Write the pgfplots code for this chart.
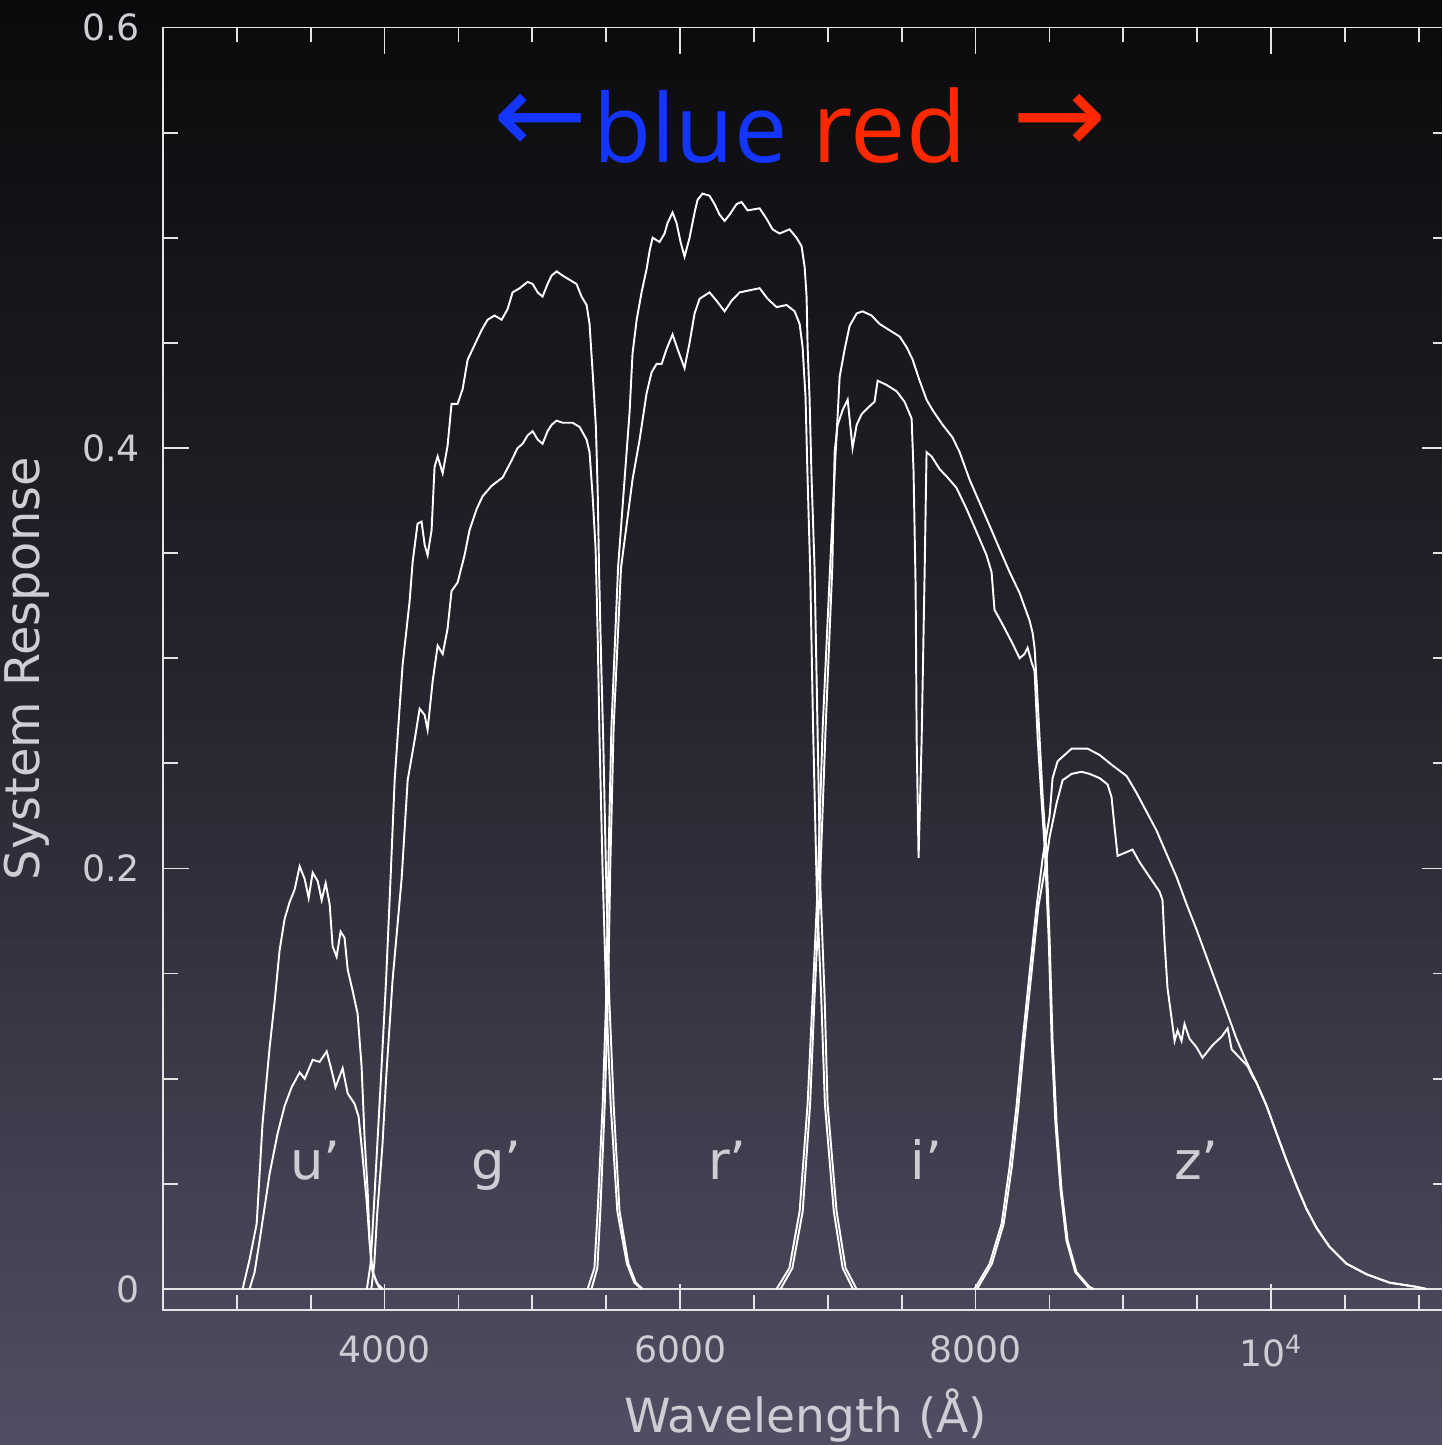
\documentclass[border=0pt]{standalone}
\usepackage{pgfplots}
\pgfplotsset{compat=1.18}
\usepackage{fontspec}
\setmainfont{DejaVu Sans}
\newfontfamily\titlefont{Open Sans}
\definecolor{bgtop}{RGB}{10,10,12}
\definecolor{bgmid}{RGB}{38,38,48}
\definecolor{bgbot}{RGB}{80,78,98}
\definecolor{axcol}{RGB}{228,228,228}
\definecolor{txtcol}{RGB}{205,205,212}
\definecolor{bluet}{RGB}{20,52,255}
\definecolor{redt}{RGB}{255,40,0}
\pgfplotsset{curve/.style={white, solid, line width=0.55pt, mark=none}}
\begin{document}
\begin{tikzpicture}[x=1cm,y=1cm]
\path[use as bounding box] (0,0) rectangle (14.42,14.45);
\foreach \i in {0,...,49}{
  \pgfmathtruncatemacro{\p}{2*\i}
  \fill[bgmid!\p!bgbot] (0,{\i*0.1445}) rectangle (14.42,{(\i+1)*0.1445+0.02});
}
\foreach \i in {50,...,99}{
  \pgfmathtruncatemacro{\p}{2*(\i-50)}
  \fill[bgtop!\p!bgmid] (0,{\i*0.1445}) rectangle (14.42,{min((\i+1)*0.1445+0.02,14.45)});
}
\begin{axis}[
  at={(1.63cm,1.35cm)}, anchor=south west,
  scale only axis, width=12.854cm, height=12.825cm,
  xmin=2500, xmax=11200, ymin=-0.01, ymax=0.6,
  scaled x ticks=false, scaled y ticks=false,
  axis line style={axcol, line width=0.5pt},
  every tick/.style={axcol, line width=0.5pt},
  major tick length=0.26cm, minor tick length=0.15cm,
  xtick pos=both, ytick pos=both, xticklabel pos=lower, yticklabel pos=left,
  xtick={4000,6000,8000,10000},
  xticklabels={4000,6000,8000,10\textsuperscript{4}},
  minor xtick={3000,3500,4500,5000,5500,6500,7000,7500,8500,9000,9500,10500,11000},
  ytick={0,0.2,0.4,0.6},
  yticklabels={0,0.2,0.4,0.6},
  minor ytick={0.05,0.1,0.15,0.25,0.3,0.35,0.45,0.5,0.55},
  extra y ticks={0},
  extra y tick labels={},
  extra y tick style={grid=major, major grid style={axcol, line width=0.5pt}},
  xticklabel style={font=\fontsize{10.3}{12}\selectfont, text=txtcol, yshift=-1.3mm},
  yticklabel style={font=\fontsize{10.3}{12}\selectfont, text=txtcol, xshift=-1.1mm},
  xlabel={Wavelength (Å)},
  ylabel={System Response},
  xlabel style={at={(axis description cs:0.5,-0.082)}, anchor=center, font=\fontsize{13.4}{15}\selectfont, text=txtcol},
  ylabel style={at={(axis description cs:-0.106,0.5)}, anchor=center, font=\fontsize{13.6}{15}\selectfont, text=txtcol},
]
% u' upper
\addplot[curve] coordinates {(3039,0) (3086,0.014) (3134,0.031) (3174,0.079) (3222,0.115) (3256,0.137) (3289,0.161) (3323,0.176) (3357,0.184) (3391,0.190) (3425,0.201) (3459,0.195) (3486,0.186) (3513,0.198) (3547,0.194) (3574,0.185) (3601,0.193) (3628,0.183) (3648,0.163) (3675,0.158) (3702,0.170) (3729,0.167) (3750,0.152) (3783,0.142) (3817,0.131) (3844,0.106) (3865,0.071) (3885,0.047) (3898,0.023) (3912,0.010) (3946,0.003) (3986,0)};
% u' lower
\addplot[curve] coordinates {(3086,0) (3120,0.008) (3154,0.023) (3222,0.055) (3276,0.074) (3323,0.087) (3371,0.096) (3425,0.103) (3459,0.100) (3513,0.109) (3560,0.108) (3608,0.113) (3641,0.104) (3668,0.096) (3716,0.105) (3750,0.093) (3797,0.088) (3824,0.082) (3851,0.063) (3878,0.042) (3898,0.023) (3919,0.008) (3960,0.001) (3986,0)};
% g' upper
\addplot[curve] coordinates {(3880,0) (3905,0.012) (3925,0.036) (3950,0.068) (3975,0.100) (4010,0.147) (4040,0.195) (4068,0.242) (4102,0.277) (4122,0.297) (4169,0.327) (4190,0.346) (4223,0.364) (4250,0.365) (4271,0.354) (4291,0.349) (4318,0.361) (4338,0.391) (4359,0.396) (4393,0.388) (4426,0.401) (4453,0.421) (4494,0.421) (4528,0.428) (4562,0.442) (4609,0.449) (4656,0.456) (4697,0.461) (4744,0.463) (4792,0.461) (4832,0.466) (4866,0.474) (4914,0.476) (4968,0.479) (5002,0.478) (5036,0.474) (5069,0.472) (5103,0.478) (5130,0.482) (5164,0.484) (5205,0.482) (5252,0.480) (5299,0.478) (5333,0.472) (5367,0.468) (5387,0.459) (5408,0.436) (5430,0.410) (5442,0.380) (5452,0.340) (5465,0.300) (5480,0.260) (5497,0.203) (5520,0.139) (5550,0.088) (5590,0.037) (5650,0.012) (5700,0.003) (5746,0)};
% g' lower
\addplot[curve] coordinates {(3910,0) (3930,0.012) (3950,0.036) (3985,0.068) (4010,0.100) (4054,0.147) (4115,0.195) (4156,0.242) (4203,0.261) (4237,0.276) (4271,0.273) (4291,0.266) (4325,0.289) (4359,0.306) (4393,0.302) (4426,0.314) (4453,0.332) (4494,0.336) (4541,0.349) (4575,0.361) (4623,0.371) (4663,0.377) (4724,0.382) (4799,0.386) (4859,0.394) (4900,0.400) (4934,0.402) (4968,0.406) (5002,0.408) (5036,0.404) (5069,0.402) (5103,0.408) (5130,0.411) (5164,0.413) (5205,0.412) (5272,0.412) (5320,0.410) (5367,0.404) (5387,0.398) (5408,0.377) (5428,0.352) (5442,0.311) (5455,0.261) (5475,0.200) (5500,0.139) (5530,0.088) (5575,0.037) (5640,0.012) (5690,0.003) (5740,0)};
% r' upper
\addplot[curve] coordinates {(5374,0) (5420,0.010) (5442,0.037) (5476,0.088) (5500,0.139) (5515,0.203) (5535,0.267) (5580,0.343) (5624,0.385) (5658,0.417) (5678,0.445) (5706,0.461) (5739,0.474) (5773,0.485) (5794,0.494) (5814,0.500) (5861,0.498) (5895,0.502) (5915,0.507) (5949,0.512) (5976,0.507) (6003,0.498) (6030,0.491) (6064,0.500) (6098,0.512) (6118,0.518) (6152,0.521) (6199,0.520) (6233,0.516) (6267,0.511) (6301,0.508) (6335,0.511) (6382,0.516) (6416,0.517) (6457,0.513) (6538,0.514) (6585,0.509) (6626,0.504) (6673,0.502) (6741,0.504) (6788,0.500) (6822,0.496) (6843,0.486) (6856,0.472) (6863,0.448) (6876,0.424) (6890,0.385) (6910,0.343) (6930,0.267) (6950,0.190) (6978,0.139) (6998,0.088) (7059,0.037) (7120,0.010) (7194,0)};
% r' lower
\addplot[curve] coordinates {(5400,0) (5440,0.010) (5460,0.037) (5490,0.088) (5512,0.139) (5528,0.203) (5550,0.267) (5600,0.343) (5678,0.385) (5726,0.404) (5773,0.426) (5807,0.436) (5841,0.440) (5875,0.440) (5908,0.447) (5949,0.454) (5983,0.447) (6030,0.438) (6064,0.450) (6098,0.464) (6132,0.471) (6199,0.474) (6247,0.470) (6301,0.465) (6348,0.470) (6403,0.474) (6470,0.475) (6538,0.476) (6592,0.471) (6653,0.467) (6721,0.468) (6775,0.465) (6809,0.459) (6829,0.448) (6849,0.424) (6863,0.385) (6880,0.343) (6900,0.267) (6925,0.190) (6955,0.139) (6980,0.088) (7040,0.037) (7100,0.010) (7170,0)};
% i' upper
\addplot[curve] coordinates {(6653,0) (6740,0.010) (6809,0.037) (6863,0.088) (6897,0.139) (6930,0.190) (6965,0.267) (7015,0.343) (7050,0.394) (7080,0.434) (7114,0.447) (7147,0.458) (7195,0.464) (7235,0.465) (7296,0.463) (7350,0.459) (7418,0.456) (7486,0.453) (7533,0.448) (7574,0.442) (7621,0.432) (7668,0.423) (7709,0.418) (7777,0.411) (7844,0.405) (7892,0.398) (7959,0.385) (8027,0.374) (8095,0.363) (8162,0.352) (8230,0.341) (8298,0.331) (8365,0.318) (8386,0.312) (8399,0.305) (8413,0.289) (8433,0.262) (8454,0.234) (8480,0.207) (8501,0.166) (8521,0.118) (8548,0.079) (8582,0.047) (8623,0.023) (8683,0.008) (8771,0.001) (8800,0)};
% i' lower
\addplot[curve] coordinates {(6680,0) (6760,0.010) (6830,0.037) (6880,0.088) (6910,0.139) (6945,0.190) (6985,0.267) (7030,0.343) (7046,0.398) (7066,0.411) (7100,0.418) (7134,0.423) (7147,0.414) (7167,0.400) (7195,0.411) (7228,0.416) (7269,0.419) (7316,0.422) (7337,0.432) (7397,0.430) (7465,0.427) (7519,0.422) (7567,0.414) (7580,0.389) (7594,0.334) (7601,0.262) (7614,0.205) (7635,0.262) (7655,0.341) (7668,0.398) (7702,0.396) (7756,0.390) (7810,0.386) (7871,0.381) (7939,0.371) (8007,0.360) (8074,0.349) (8108,0.341) (8128,0.323) (8183,0.316) (8250,0.307) (8298,0.300) (8331,0.302) (8352,0.305) (8379,0.298) (8399,0.294) (8420,0.262) (8445,0.234) (8470,0.207) (8495,0.166) (8515,0.118) (8540,0.079) (8575,0.047) (8615,0.023) (8675,0.008) (8760,0.001) (8790,0)};
% z' upper
\addplot[curve] coordinates {(7993,0) (8095,0.012) (8176,0.031) (8230,0.058) (8277,0.087) (8318,0.118) (8365,0.150) (8413,0.182) (8454,0.205) (8501,0.225) (8521,0.243) (8555,0.251) (8602,0.254) (8650,0.257) (8704,0.257) (8758,0.257) (8839,0.254) (8927,0.249) (9022,0.244) (9089,0.236) (9157,0.227) (9225,0.218) (9292,0.207) (9360,0.196) (9428,0.183) (9495,0.171) (9563,0.158) (9631,0.145) (9699,0.132) (9766,0.119) (9834,0.108) (9902,0.098) (9970,0.087) (10037,0.074) (10105,0.061) (10173,0.049) (10240,0.038) (10308,0.029) (10396,0.020) (10511,0.012) (10646,0.007) (10802,0.003) (10985,0.001) (11050,0)};
% z' lower
\addplot[curve] coordinates {(8010,0) (8110,0.012) (8190,0.031) (8245,0.058) (8290,0.087) (8330,0.118) (8378,0.150) (8425,0.182) (8470,0.200) (8501,0.215) (8548,0.231) (8589,0.242) (8650,0.245) (8717,0.246) (8771,0.245) (8839,0.243) (8893,0.240) (8920,0.234) (8940,0.220) (8961,0.206) (8995,0.207) (9062,0.209) (9110,0.203) (9177,0.196) (9245,0.189) (9265,0.185) (9279,0.165) (9299,0.143) (9326,0.129) (9347,0.118) (9367,0.123) (9394,0.118) (9414,0.126) (9448,0.119) (9495,0.115) (9536,0.110) (9604,0.116) (9665,0.120) (9706,0.124) (9733,0.114) (9787,0.110) (9841,0.106) (9875,0.101) (9902,0.098) (9970,0.087) (10037,0.074) (10105,0.061) (10173,0.049) (10240,0.038) (10308,0.029) (10396,0.020) (10511,0.012) (10646,0.007) (10802,0.003) (10985,0.001) (11050,0)};
\node[text=txtcol, font=\fontsize{15}{18}\selectfont, anchor=base] at (axis cs:3533,0.052) {u'};
\node[text=txtcol, font=\fontsize{15}{18}\selectfont, anchor=base] at (axis cs:4758,0.052) {g'};
\node[text=txtcol, font=\fontsize{15}{18}\selectfont, anchor=base] at (axis cs:6321,0.052) {r'};
\node[text=txtcol, font=\fontsize{15}{18}\selectfont, anchor=base] at (axis cs:7668,0.052) {i'};
\node[text=txtcol, font=\fontsize{15}{18}\selectfont, anchor=base] at (axis cs:9495,0.052) {z'};
\end{axis}
\node[anchor=base west, inner sep=0, text=bluet, font=\titlefont\fontsize{27}{30}\selectfont] at (5.93,12.82) {blue};
\node[anchor=base west, inner sep=0, text=redt, font=\titlefont\fontsize{28}{30}\selectfont] at (8.12,12.82) {red};
\node[anchor=center, inner sep=0, text=bluet, font=\fontsize{32}{36}\selectfont] at (5.41,13.21) {←};
\node[anchor=center, inner sep=0, text=redt, font=\fontsize{32}{36}\selectfont] at (10.595,13.21) {→};
\end{tikzpicture}
\end{document}
